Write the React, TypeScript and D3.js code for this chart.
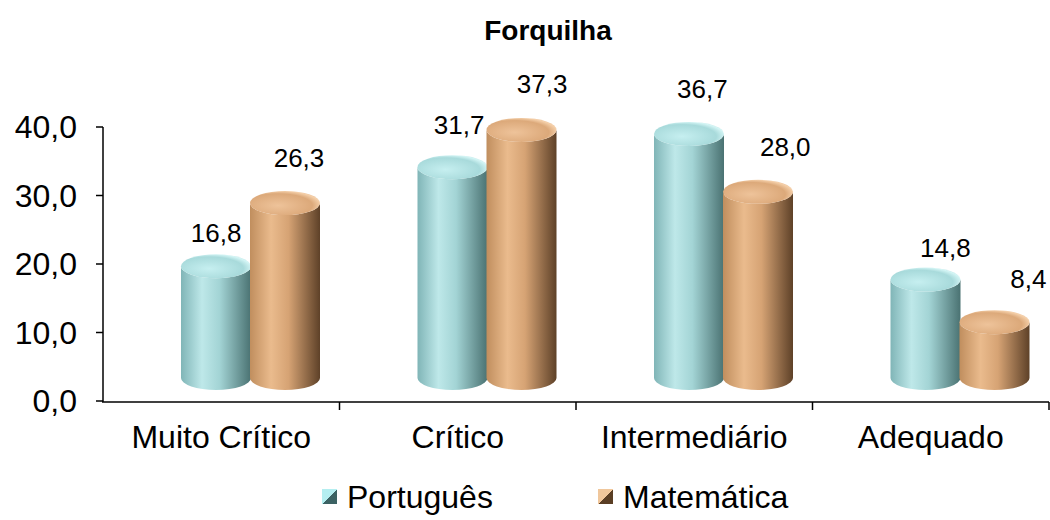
import React, { useEffect, useRef } from "react";
import * as d3 from "d3";

const categories = ["Muito Crítico", "Crítico", "Intermediário", "Adequado"];
const seriesNames = ["Português", "Matemática"];
const portugues = [16.8, 31.7, 36.7, 14.8];
const matematica = [26.3, 37.3, 28.0, 8.4];
const yTicks = [0, 10, 20, 30, 40];

const FONT = "Arial, 'Liberation Sans', sans-serif";

const App = () => {
  const chartRef = useRef<SVGSVGElement | null>(null);

  useEffect(() => {
    drawChart();
  }, []);

  const drawChart = () => {
    const width = 1050;
    const height = 520;
    const svg = d3.select(chartRef.current).attr("width", width).attr("height", height);
    svg.selectAll("*").remove();

    const fmt = (v: number) => d3.format(".1f")(v).replace(".", ",");

    // axis scale (back wall) and cylinder scale (front plane)
    const y = d3.scaleLinear().domain([0, 40]).range([401, 127]);
    const yBar = d3.scaleLinear().domain([0, 40]).range([378, 112]);
    const yLabel = [
      d3.scaleLinear().domain([0, 40]).range([364, 74]),
      d3.scaleLinear().domain([0, 40]).range([345, 75]),
    ];

    const x0 = d3.scaleBand().domain(categories).range([103, 1049]);
    const x1 = d3.scaleBand().domain(seriesNames).range([78, 216]);

    const colors = [
      { stops: ["#80b5b7", "#bee8e9", "#a3d4d5", "#4a7272"], top: ["#a8dadb", "#c6eff0", "#d4f5f5"], legend: ["#b4eef0", "#3c6263"] },
      { stops: ["#c08e5e", "#eabb8d", "#d6a374", "#5e4128"], top: ["#dca97a", "#eec39a", "#f5d0aa"], legend: ["#f0c79c", "#5a3e24"] },
    ];

    const defs = svg.append("defs");
    colors.forEach((c, i) => {
      const g = defs.append("linearGradient").attr("id", `body${i}`).attr("x1", 0).attr("x2", 1).attr("y1", 0).attr("y2", 0);
      [0, 0.3, 0.55, 1].forEach((o, k) => g.append("stop").attr("offset", o).attr("stop-color", c.stops[k]));
      const t = defs.append("radialGradient").attr("id", `top${i}`).attr("cx", 0.4).attr("cy", 0.6).attr("r", 0.7);
      t.append("stop").attr("offset", 0).attr("stop-color", c.top[1]);
      t.append("stop").attr("offset", 0.7).attr("stop-color", c.top[0]);
      t.append("stop").attr("offset", 0.88).attr("stop-color", c.top[2]);
      t.append("stop").attr("offset", 1).attr("stop-color", c.top[0]);
      const l = defs.append("linearGradient").attr("id", `leg${i}`).attr("x1", 0).attr("x2", 1).attr("y1", 0).attr("y2", 1);
      l.append("stop").attr("offset", 0).attr("stop-color", c.legend[0]);
      l.append("stop").attr("offset", 0.5).attr("stop-color", c.legend[0]);
      l.append("stop").attr("offset", 0.5).attr("stop-color", c.legend[1]);
      l.append("stop").attr("offset", 1).attr("stop-color", c.legend[1]);
    });

    // title
    svg
      .append("text")
      .attr("x", 548)
      .attr("y", 40)
      .attr("text-anchor", "middle")
      .style("font-family", FONT)
      .style("font-size", "28px")
      .style("font-weight", "bold")
      .text("Forquilha");

    // y axis
    const yAxis = svg.append("g");
    yAxis.append("line").attr("x1", 103).attr("x2", 103).attr("y1", y(40)).attr("y2", y(0) + 1).attr("stroke", "#000").attr("stroke-width", 1.5);
    yAxis
      .selectAll("line.tick")
      .data(yTicks)
      .enter()
      .append("line")
      .attr("class", "tick")
      .attr("x1", 96)
      .attr("x2", 103)
      .attr("y1", (d) => y(d))
      .attr("y2", (d) => y(d))
      .attr("stroke", "#000")
      .attr("stroke-width", 1.5);
    yAxis
      .selectAll("text")
      .data(yTicks)
      .enter()
      .append("text")
      .attr("x", 77)
      .attr("y", (d) => y(d))
      .attr("dy", "0.35em")
      .attr("text-anchor", "end")
      .style("font-family", FONT)
      .style("font-size", "32px")
      .text((d) => fmt(d));

    // x axis
    const xAxis = svg.append("g");
    xAxis.append("line").attr("x1", 102).attr("x2", 1049).attr("y1", y(0) + 1).attr("y2", y(0) + 1).attr("stroke", "#000").attr("stroke-width", 1.5);
    const bounds = categories.map((c) => (x0(c) as number) + x0.bandwidth());
    xAxis
      .selectAll("line.tick")
      .data(bounds)
      .enter()
      .append("line")
      .attr("class", "tick")
      .attr("x1", (d) => d)
      .attr("x2", (d) => d)
      .attr("y1", y(0) + 1)
      .attr("y2", y(0) + 9)
      .attr("stroke", "#000")
      .attr("stroke-width", 1.5);
    xAxis
      .selectAll("text")
      .data(categories)
      .enter()
      .append("text")
      .attr("x", (d) => (x0(d) as number) + x0.bandwidth() / 2)
      .attr("y", 448)
      .attr("text-anchor", "middle")
      .style("font-family", FONT)
      .style("font-size", "32px")
      .text((d) => d);

    // cylinders
    const rows = categories.flatMap((c, ci) =>
      [portugues[ci], matematica[ci]].map((v, si) => ({ c, si, v }))
    );
    const w = x1.bandwidth() + 1;
    const rx = w / 2;
    const ry = 12;

    const cyl = svg
      .selectAll("g.cyl")
      .data(rows)
      .enter()
      .append("g")
      .attr("class", "cyl");

    cyl
      .append("path")
      .attr("fill", (d) => `url(#body${d.si})`)
      .attr("d", (d) => {
        const left = (x0(d.c) as number) + (x1(seriesNames[d.si]) as number);
        const top = yBar(d.v);
        const base = yBar(0);
        return `M${left},${top} L${left},${base} A${rx},${ry} 0 0 0 ${left + w},${base} L${left + w},${top} A${rx},${ry} 0 0 1 ${left},${top} Z`;
      });

    cyl
      .append("ellipse")
      .attr("cx", (d) => (x0(d.c) as number) + (x1(seriesNames[d.si]) as number) + rx)
      .attr("cy", (d) => yBar(d.v))
      .attr("rx", rx)
      .attr("ry", ry)
      .attr("fill", (d) => `url(#top${d.si})`);

    // value labels
    svg
      .selectAll("text.value")
      .data(rows)
      .enter()
      .append("text")
      .attr("class", "value")
      .attr("x", (d) => {
        const cx = (x0(d.c) as number) + (x1(seriesNames[d.si]) as number) + rx;
        return cx + 0.028 * (cx - 214) + (d.si === 0 ? 0 : 12);
      })
      .attr("y", (d) => yLabel[d.si](d.v))
      .attr("text-anchor", "middle")
      .style("font-family", FONT)
      .style("font-size", "26px")
      .text((d) => fmt(d.v));

    // legend
    const legendX = [322, 598];
    const legend = svg
      .selectAll("g.legend")
      .data(seriesNames)
      .enter()
      .append("g")
      .attr("class", "legend")
      .attr("transform", (d, i) => `translate(${legendX[i]},508)`);
    legend
      .append("rect")
      .attr("x", 0)
      .attr("y", -19)
      .attr("width", 15)
      .attr("height", 15)
      .attr("fill", (d, i) => `url(#leg${i})`);
    legend
      .append("text")
      .attr("x", 25)
      .attr("y", 0)
      .style("font-family", FONT)
      .style("font-size", "32px")
      .text((d) => d);
  };

  return (
    <svg
      ref={chartRef}
      style={{ position: "absolute", left: 0, top: 0, background: "#fff" }}
    ></svg>
  );
};

export default App;
